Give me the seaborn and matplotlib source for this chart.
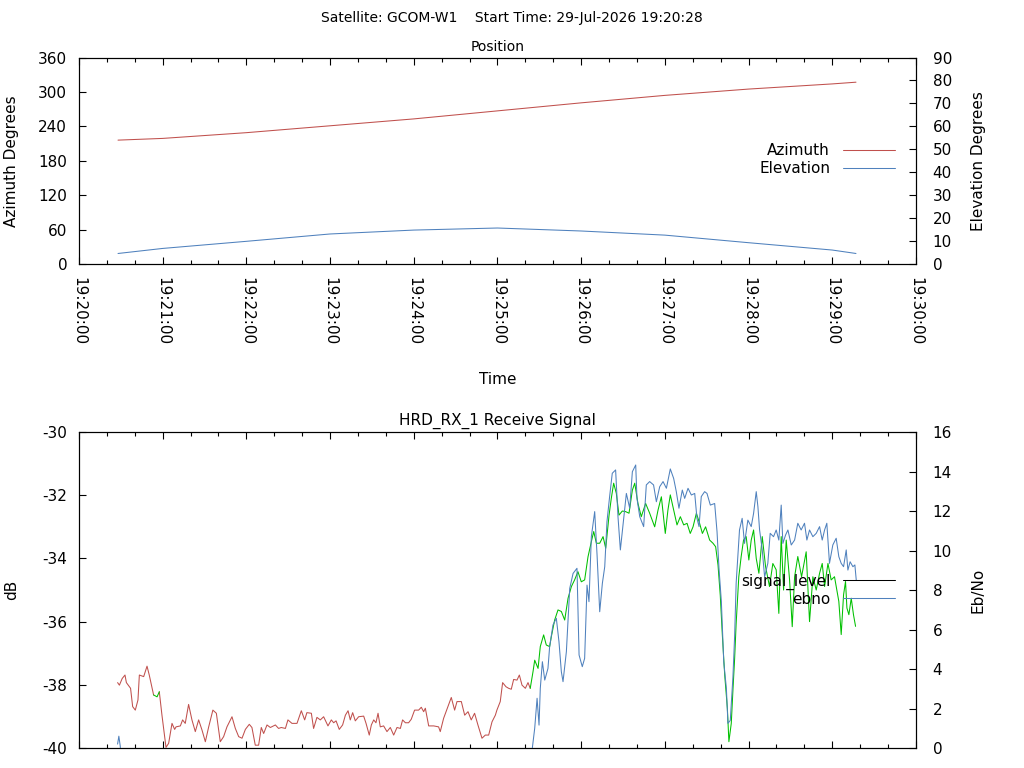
"""
Pass report plot for one satellite contact: antenna position and receiver signal.
"""

from datetime import datetime, timedelta

import numpy as np
import matplotlib
matplotlib.use("Agg")
import matplotlib.pyplot as plt
import seaborn as sns
from matplotlib.lines import Line2D
from matplotlib.ticker import MultipleLocator, FuncFormatter

# --- data (time in seconds after 19:20:00) ---
START = datetime(2026, 7, 29, 19, 20, 0)
SATELLITE = "GCOM-W1"
START_TIME = "29-Jul-2026 19:20:28"

pos_t = [28, 60, 120, 180, 240, 300, 360, 420, 480, 540, 557]
azimuth = [216, 219, 229, 241, 253, 267, 281, 294, 305, 314, 317]
elevation = [4.6, 6.8, 9.9, 13.1, 14.8, 15.7, 14.4, 12.6, 9.3, 6.1, 4.6]

sig_t = [
    27.7, 29, 31, 33, 34, 37, 38.5, 40.4, 42.3, 43.3, 46.4, 48.8, 50.4, 53.5,
    56, 57.6, 59.5, 62.4, 64.3, 66.7, 68.6, 69.6, 72.7, 74.3, 76.2, 78.6, 81,
    83.4, 85.8, 88.2, 90.6, 93, 96, 98.5, 101.3, 103.7, 106.1, 109.7, 112.1,
    114.5, 116.9, 119.3, 122.1, 124, 126.4, 128.8, 130.7, 132.4, 134.8, 137.2,
    140.8, 143.1, 145, 148, 149.8, 152.7, 156.3, 159.4, 161.8, 163.4, 166.6,
    168.2, 170.6, 173, 175.4, 178.5, 180.9, 182.6, 184.3, 186.6, 189, 191,
    192.9, 194.5, 196.2, 198.1, 200.5, 204.1, 205.8, 208.1, 209.6, 211.3,
    212.9, 214.4, 216, 218.4, 220.8, 223.2, 225.6, 228, 230.4, 232, 234,
    236.3, 238.2, 240.6, 243.5, 245.4, 247.1, 248.3, 250.7, 254.3, 257.8, 259,
    261.4, 264.5, 266.9, 269.3, 271, 274.1, 276.5, 278.9, 281.2, 283.6, 286,
    288.9, 291.3, 293.7, 296.1, 298.5, 299.6, 302, 303.7, 306.1, 308, 309.9,
    311.6, 314, 315.7, 317.6, 320, 321.9, 323.5, 325.5, 326.7, 329.1, 330.7,
    333.1, 335, 337.4, 338.6, 341, 343.4, 345.8, 348.2, 350.6, 353, 355.3,
    357.7, 360.1, 362.5, 364.9, 367.3, 369, 370.9, 373.3, 375.7, 377.6, 380,
    381.6, 383.3, 385.2, 387.1, 389.5, 391.9, 394.3, 396.7, 398.4, 400.7,
    403.1, 406.2, 409.1, 412.7, 415.1, 417.5, 420.3, 422.2, 423.9, 426.3,
    428.7, 431.1, 433.5, 435.9, 438.2, 440.2, 442.6, 444.9, 446.9, 449.2,
    452.1, 454.5, 456.4, 458.1, 459.7, 461.2, 462.9, 464.8, 465.9, 467.6,
    468.8, 470, 471.1, 473, 474.7, 476.4, 478.3, 480.2, 481.9, 483.6, 485.5,
    487.4, 489.8, 492.2, 495, 497.4, 499.8, 501.7, 503.4, 505.1, 507, 509.4,
    511.3, 513, 515.3, 518, 521.3, 523.7, 526.1, 528.5, 530.9, 532.8, 534.5,
    536.9, 539.2, 541.6, 543.3, 544.7, 546.4, 548.1, 549.5, 550.5, 551.9,
    553.6, 555.2, 556.7,
]
sig_db = [
    -37.93, -38.01, -37.80, -37.69, -37.93, -38.11, -38.69, -38.80, -38.48,
    -37.69, -37.74, -37.41, -37.69, -38.32, -38.38, -38.22, -38.96, -39.98,
    -39.85, -39.22, -39.41, -39.33, -39.30, -39.11, -39.22, -38.62, -39.11,
    -39.48, -39.11, -39.43, -39.80, -39.33, -38.80, -38.90, -39.80, -39.64,
    -39.33, -39.01, -39.38, -39.64, -39.69, -39.41, -39.25, -39.35, -39.91,
    -39.91, -39.35, -39.54, -39.27, -39.35, -39.27, -39.38, -39.35, -39.38,
    -39.11, -39.22, -39.22, -38.82, -39.11, -38.88, -38.90, -39.38, -39.03,
    -39.11, -39.01, -39.30, -39.11, -39.20, -39.14, -39.41, -39.27, -38.96,
    -38.82, -39.11, -38.88, -39.14, -39.01, -38.99, -39.22, -39.59, -39.27,
    -39.11, -39.20, -38.90, -39.33, -39.30, -39.48, -39.35, -39.59, -39.35,
    -39.38, -39.11, -39.20, -39.20, -39.09, -38.80, -38.80, -38.71, -38.85,
    -38.74, -39.30, -39.30, -39.33, -39.48, -39.06, -38.69, -38.40, -38.80,
    -38.53, -38.53, -38.96, -38.85, -39.11, -38.90, -39.27, -39.69, -39.59,
    -39.59, -39.17, -38.96, -38.80, -38.53, -37.93, -38.06, -38.11, -38.14,
    -37.83, -37.85, -37.69, -38.01, -38.11, -37.93, -38.11, -37.58, -37.22,
    -37.48, -36.79, -36.42, -36.74, -36.79, -36.48, -35.95, -35.63, -35.68,
    -35.95, -35.26, -34.89, -34.68, -34.42, -34.74, -34.68, -33.95, -33.47,
    -33.15, -33.52, -33.52, -33.31, -33.68, -32.63, -32.10, -31.62, -31.94,
    -32.63, -32.50, -32.52, -32.57, -31.84, -31.62, -32.26, -32.68, -32.26,
    -32.57, -33.00, -32.47, -32.05, -33.21, -32.47, -31.99, -32.47, -32.94,
    -32.68, -32.94, -32.89, -33.21, -33.00, -32.57, -32.89, -33.21, -33.00,
    -33.42, -33.52, -33.63, -34.21, -35.16, -36.42, -37.69, -38.74, -39.80,
    -39.22, -38.16, -37.18, -36.06, -34.58, -33.94, -33.42, -33.31, -34.05,
    -33.42, -33.10, -34.00, -34.47, -33.31, -34.26, -34.89, -34.16, -34.36,
    -35.74, -33.31, -35.00, -33.42, -34.68, -36.16, -34.58, -33.94, -34.58,
    -33.79, -36.00, -34.58, -35.00, -34.47, -34.16, -34.89, -34.16, -34.68,
    -34.58, -35.00, -35.36, -36.41, -35.15, -34.73, -35.57, -35.78, -35.26,
    -35.78, -36.15,
]
# periods where the demodulator reported lock (signal drawn green)
lock_windows = [(55.5, 57.0), (324.0, 560.0)]

ebno_t = [
    27.7, 28.6, 29.6, 30.5, 100, 200, 323.5, 325, 326.7, 328.4, 329.8, 330.7,
    332.2, 333.9, 336.2, 337.4, 339.8, 342.2, 344.1, 345.8, 347, 349.4, 351.8,
    354.2, 357, 358.5, 360.8, 362.5, 364.2, 365.6, 367.3, 369.7, 371.4, 373.3,
    375.2, 376.9, 378.5, 380.4, 382.3, 384.7, 386.4, 388.1, 390.5, 392.4,
    394.8, 396.7, 399.1, 400, 402, 404.8, 406.7, 409.1, 411.9, 413.9, 416.3,
    418.7, 421.1, 423.9, 426.3, 428.2, 430.1, 432.5, 434.2, 436.6, 439, 441.4,
    443, 444.5, 446.1, 448.5, 450.2, 452.6, 455.7, 457.4, 458.8, 460.5, 462.2,
    464.1, 465.2, 466.9, 468.8, 470, 471.1, 472.3, 473.5, 475.4, 477.1, 479.5,
    481.9, 483.6, 485.5, 486.7, 487.9, 489.8, 491.5, 493.8, 495.5, 497.9,
    499.8, 501.7, 503.4, 504.6, 506.5, 508.2, 510.6, 513, 515.3, 517.7, 520.1,
    521.8, 523.7, 526.1, 528.5, 530.9, 532.8, 534.5, 536.1, 538, 540.4, 542.8,
    544.7, 546.4, 548.1, 550, 551.2, 552.8, 554.8, 556.2, 557.2,
]
ebno = [
    0.2, 0.6, 0.1, -1, -1, -1, -1, 0.0, 1.0, 2.52, 1.16, 3.02, 4.37, 3.44,
    4.03, 5.13, 6.23, 6.57, 5.38, 3.86, 3.36, 4.88, 8.08, 8.84, 9.10, 4.71,
    4.12, 4.54, 8.25, 7.41, 10.70, 11.97, 9.77, 6.90, 8.34, 9.18, 11.46, 12.73,
    13.91, 14.08, 11.71, 10.03, 11.63, 12.89, 12.14, 13.99, 14.33, 12.64,
    11.71, 11.21, 13.32, 13.49, 13.32, 12.47, 13.23, 13.49, 13.15, 14.13,
    13.65, 12.98, 12.14, 13.06, 12.64, 13.15, 12.81, 12.89, 11.63, 11.21,
    12.73, 12.98, 12.89, 12.30, 12.38, 10.95, 9.10, 7.41, 4.37, 3.02, 1.25,
    1.40, 3.61, 5.64, 8.34, 9.69, 11.04, 11.63, 10.36, 11.54, 11.21, 11.88,
    12.98, 12.22, 11.04, 10.03, 8.67, 9.35, 10.87, 10.70, 11.04, 10.53, 12.30,
    10.36, 10.78, 11.04, 10.28, 10.53, 11.38, 11.04, 11.38, 10.53, 11.04,
    10.70, 10.87, 11.21, 10.53, 11.04, 11.38, 9.35, 10.28, 10.62, 9.69, 9.35,
    9.18, 10.03, 9.01, 9.43, 9.18, 9.27, 8.50,
]

RED = "#c0504d"
BLUE = "#4f81bd"
GREEN = "#00c000"
FONT = 11
LW = 0.75


def time_label(v, _pos=None):
    return (START + timedelta(seconds=float(v))).strftime("%H:%M:%S")


def style_time_axis(ax, labels=True):
    ax.set_xlim(0, 600)
    ax.xaxis.set_major_locator(MultipleLocator(60))
    ax.xaxis.set_minor_locator(MultipleLocator(20))
    ax.xaxis.set_major_formatter(FuncFormatter(time_label))
    ax.tick_params(axis="x", which="both", direction="in", top=True,
                   bottom=True, labelbottom=labels, labelsize=FONT,
                   labelrotation=-90, pad=9, width=0.8)
    ax.tick_params(axis="x", which="major", length=5)
    ax.tick_params(axis="x", which="minor", length=3)
    for lab in ax.get_xticklabels():
        lab.set_verticalalignment("top")


def style_y(ax, side, lo, hi, step, label, pad):
    ax.set_ylim(lo, hi)
    ax.yaxis.set_major_locator(MultipleLocator(step))
    ax.set_ylabel(label, fontsize=FONT)
    ax.tick_params(axis="y", which="major", direction="in", length=5,
                   width=0.8, labelsize=FONT, pad=pad,
                   left=(side == "left"), right=(side == "right"),
                   labelleft=(side == "left"), labelright=(side == "right"))
    ax.yaxis.set_label_coords(-0.0717 if side == "left" else 1.0657, 0.5)


def main():
    sns.set_style("white")
    plt.rcParams["font.family"] = ["DejaVu Sans"]
    plt.rcParams["axes.edgecolor"] = "black"
    plt.rcParams["axes.linewidth"] = 0.8
    plt.rcParams["axes.unicode_minus"] = False
    for key in ("text.color", "axes.labelcolor", "xtick.color", "ytick.color"):
        plt.rcParams[key] = "black"

    fig = plt.figure(figsize=(10.24, 7.68), dpi=100)
    fig.text(0.5, 1 - 18 / 768,
             f"Satellite: {SATELLITE}    Start Time: {START_TIME}",
             ha="center", va="center", fontsize=10)

    # ---- position panel ----
    ax_pos = fig.add_axes([0.0771, 0.6562, 0.8174, 0.2689])
    ax_el = ax_pos.twinx()
    sns.lineplot(x=pos_t, y=azimuth, ax=ax_pos, color=RED, lw=LW,
                 estimator=None, sort=False, legend=False)
    sns.lineplot(x=pos_t, y=elevation, ax=ax_el, color=BLUE, lw=LW,
                 estimator=None, sort=False, legend=False)
    style_time_axis(ax_pos)
    ax_pos.set_xlabel("Time", fontsize=FONT)
    ax_pos.xaxis.set_label_coords(0.5, -0.525)
    style_y(ax_pos, "left", 0, 360, 60, "Azimuth Degrees", 8.5)
    style_y(ax_el, "right", 0, 90, 10, "Elevation Degrees", 12)
    ax_pos.set_title("Position", fontsize=10, pad=5)
    handles = [Line2D([], [], color=RED, lw=LW),
               Line2D([], [], color=BLUE, lw=LW)]
    ax_el.legend(handles, ["Azimuth", "Elevation"], loc="center right",
                 bbox_to_anchor=(0.975, 0.504), frameon=False,
                 markerfirst=False, fontsize=FONT, handlelength=3.4,
                 handletextpad=0.85, labelspacing=0.2, borderpad=0,
                 borderaxespad=0)

    # ---- receive signal panel ----
    ax_sig = fig.add_axes([0.0771, 0.026, 0.8174, 0.4115])
    ax_eb = ax_sig.twinx()

    t = np.asarray(sig_t)
    y = np.asarray(sig_db)
    locked = np.zeros(len(t), dtype=bool)
    for lo, hi in lock_windows:
        locked |= (t >= lo) & (t <= hi)
    near = locked.copy()
    near[1:] |= locked[:-1]
    near[:-1] |= locked[1:]
    ax_sig.plot(t, np.where(~locked, y, np.nan), color=RED, lw=LW)
    ax_sig.plot(t, np.where(near, y, np.nan), color=GREEN, lw=LW)

    sns.lineplot(x=ebno_t, y=ebno, ax=ax_eb, color=BLUE, lw=LW,
                 estimator=None, sort=False, legend=False)
    style_time_axis(ax_sig, labels=False)
    ax_sig.set_xlabel("")
    style_y(ax_sig, "left", -40, -30, 2, "dB", 8.5)
    style_y(ax_eb, "right", 0, 16, 2, "Eb/No", 12)
    ax_sig.set_title("HRD_RX_1 Receive Signal", fontsize=FONT, pad=5)
    handles = [Line2D([], [], color="black", lw=LW),
               Line2D([], [], color=BLUE, lw=LW)]
    ax_eb.legend(handles, ["signal_level", "ebno"], loc="center right",
                 bbox_to_anchor=(0.975, 0.5), frameon=False,
                 markerfirst=False, fontsize=FONT, handlelength=3.4,
                 handletextpad=0.85, labelspacing=0.12, borderpad=0,
                 borderaxespad=0)

    fig.savefig("out.png", dpi=100)
    plt.close(fig)


if __name__ == "__main__":
    main()
